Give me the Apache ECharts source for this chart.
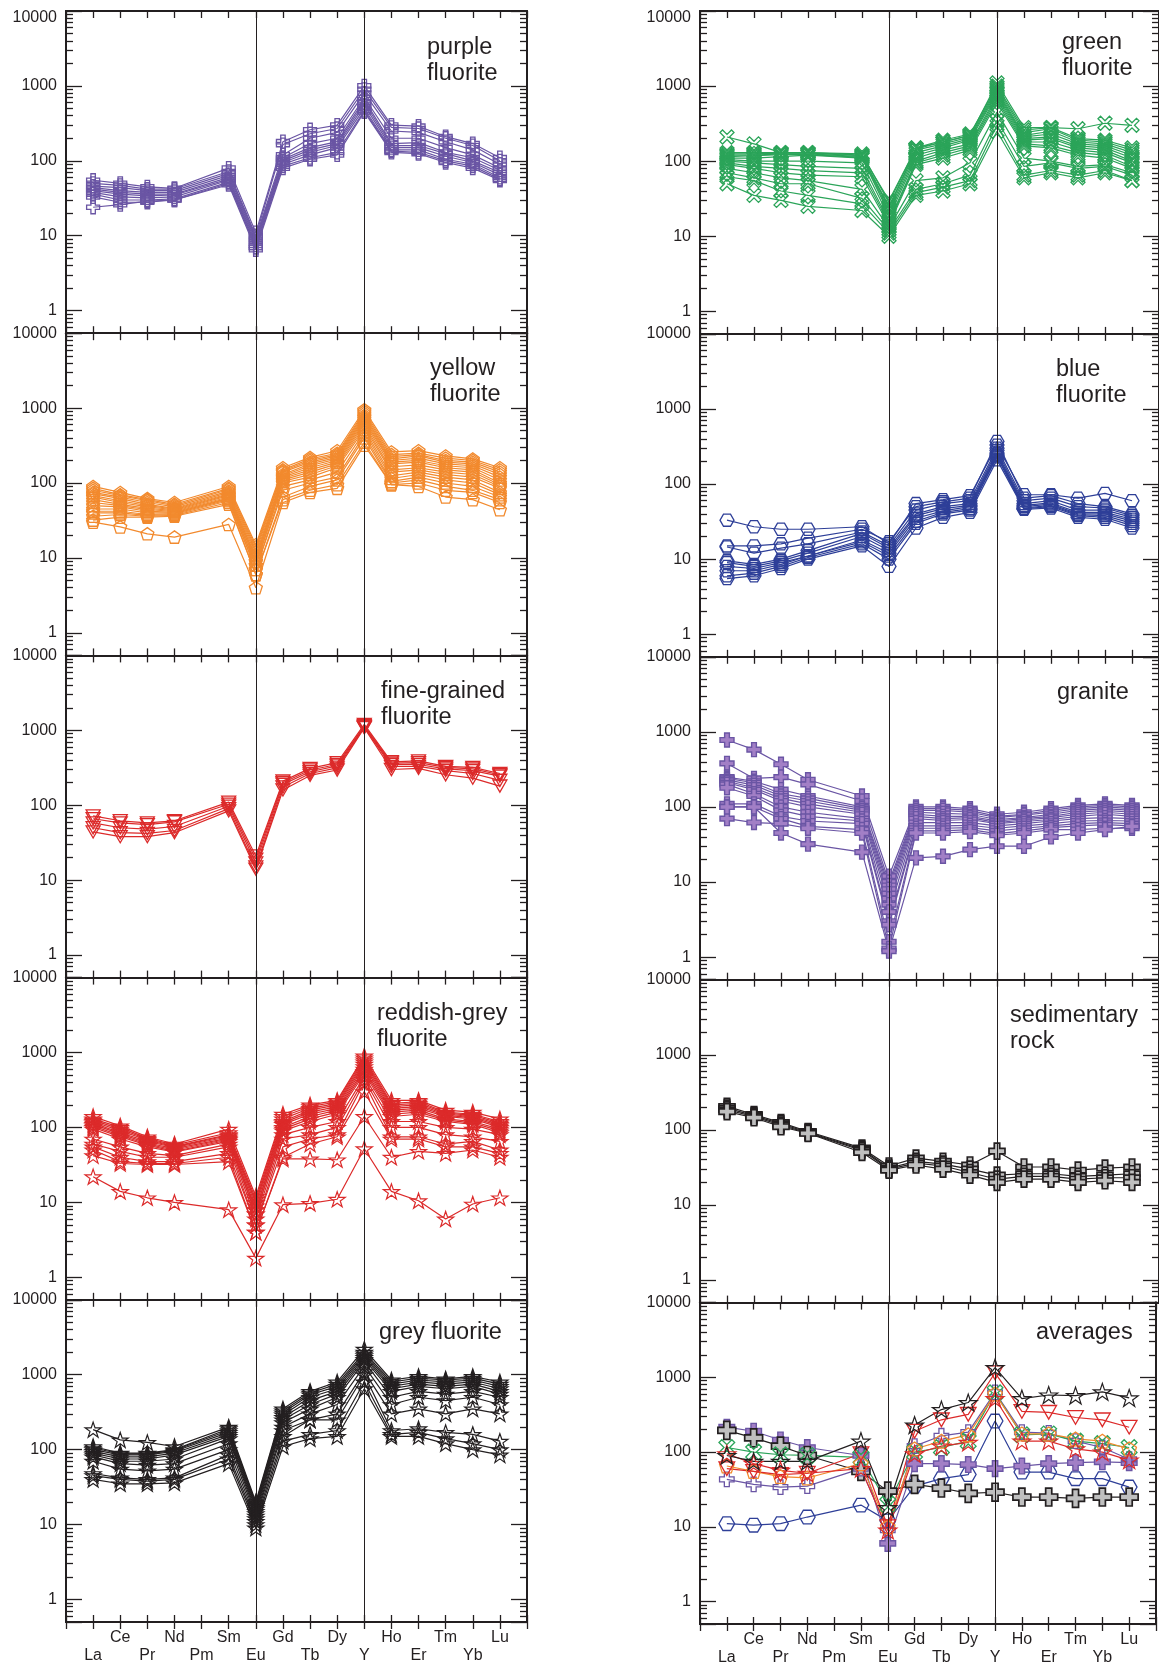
<!DOCTYPE html>
<html><head><meta charset="utf-8">
<script src="https://cdn.jsdelivr.net/npm/echarts@6.0.0/dist/echarts.min.js"></script>
<style>html,body{margin:0;padding:0;background:#fff}#c{width:1159px;height:1667px}</style>
</head><body><div id="c"></div>
<script>
// ---------------- DATA ----------------
const elements = ['La','Ce','Pr','Nd','Pm','Sm','Eu','Gd','Tb','Dy','Y','Ho','Er','Tm','Yb','Lu'];
const yMajorTicks = [1,10,100,1000,10000];
const minorTickValues = [0.6,0.7,0.8,0.9,2,3,4,5,6,7,8,9,20,30,40,50,60,70,80,90,200,300,400,500,600,700,800,900,2000,3000,4000,5000,6000,7000,8000,9000];

const purpleFluorite = [
  [55,50,45,43,null,80,11,180,260,300,1000,300,290,210,170,110],
  [50,47,42,42,null,72,10,165,230,270,900,280,270,200,160,100],
  [46,44,40,40,null,68,9.5,120,200,240,800,250,240,180,140,90],
  [44,40,38,38,null,64,9,110,170,200,700,200,200,150,120,80],
  [42,38,36,36,null,60,8.5,105,150,180,650,170,175,130,110,75],
  [40,36,34,35,null,57,8,100,140,170,600,160,160,125,100,70],
  [38,33,32,33,null,55,7.5,95,130,160,550,150,150,115,95,65],
  [36,30,30,31,null,52,7,90,120,150,500,140,140,105,90,60],
  [33,28,28,30,null,50,7,85,110,130,470,135,130,100,85,57],
  [24,26,29,30,null,48,6.5,80,105,120,450,130,125,95,80,55]
];
const greenFluorite = [
  [210,170,130,130,null,120,30,150,180,220,1100,280,280,270,320,300],
  [130,130,130,130,null,125,28,150,190,230,1000,260,280,200,190,150],
  [125,125,128,128,null,118,25,145,180,220,950,240,270,190,180,140],
  [120,120,125,125,null,115,24,140,170,210,900,220,250,180,170,130],
  [115,118,122,122,null,112,22,130,160,200,850,210,230,170,160,120],
  [110,110,115,120,null,110,20,120,150,190,800,200,210,160,150,110],
  [105,100,100,100,null,95,18,110,140,170,750,190,200,150,140,100],
  [100,95,90,85,null,80,16,100,130,160,700,180,180,140,130,95],
  [95,85,80,75,null,70,15,95,120,150,650,170,160,130,120,85],
  [90,80,70,65,null,62,14,90,110,140,600,160,150,120,110,80],
  [80,70,60,55,null,42,13,55,60,95,450,110,100,85,90,70],
  [70,60,50,50,null,32,12,42,50,65,350,85,95,80,85,65],
  [62,55,40,35,null,27,11,38,45,55,300,65,75,65,75,55],
  [50,35,30,25,null,22,10,35,40,50,250,60,70,60,70,55]
];
const yellowFluorite = [
  [90,75,62,55,null,90,15,160,220,270,950,260,270,230,210,160],
  [85,70,60,52,null,85,14,150,210,250,900,240,250,215,200,150],
  [80,68,58,50,null,82,13,145,200,240,850,225,240,200,190,140],
  [75,65,55,48,null,78,12,140,190,230,800,210,230,190,180,130],
  [72,62,52,46,null,75,11,130,180,220,760,200,215,180,170,120],
  [68,58,50,45,null,72,10,125,170,210,720,190,200,170,160,110],
  [65,55,48,44,null,70,10,120,160,200,680,180,190,160,150,100],
  [60,52,46,43,null,68,9,115,150,190,640,165,175,150,140,95],
  [55,50,44,42,null,65,9,110,140,180,600,150,160,140,130,90],
  [50,48,42,41,null,63,8,105,130,170,560,140,150,130,120,85],
  [45,45,40,40,null,62,8,100,120,160,520,125,140,120,110,75],
  [42,42,38,39,null,60,7,90,110,140,480,115,130,110,100,70],
  [40,40,37,38,null,58,7,80,100,120,440,105,120,100,90,65],
  [36,38,36,37,null,55,6,65,90,110,400,100,110,90,80,60],
  [32,35,35,36,null,52,6,60,80,95,350,95,100,80,75,55],
  [30,26,21,19,null,28,4,55,75,85,320,95,90,65,60,44]
];
const blueFluorite = [
  [33,27,25,25,null,27,16,55,62,70,330,72,72,65,75,60],
  [15,15,16,19,null,25,17,50,58,65,370,65,70,55,50,40],
  [14.5,12,14,16,null,23,15,45,55,60,300,60,65,50,48,38],
  [9.5,8.5,10,13,null,22,14,40,50,55,280,55,60,45,45,36],
  [9,8,9.5,12,null,20,13,38,47,52,260,52,56,42,42,34],
  [8,7.5,9,11,null,18,12,35,44,50,250,50,54,40,40,32],
  [7,7,8.5,11,null,17,11,32,42,47,240,48,52,39,38,30],
  [6,6.5,8,10.5,null,16,10,30,40,45,230,47,50,38,36,28],
  [5.5,6,7.5,10,null,15,8,26,36,42,210,46,48,36,34,26]
];
const fineGrainedFluorite = [
  [72,62,58,62,null,110,21,210,310,370,1200,380,390,330,320,265],
  [66,58,55,60,null,103,19,200,295,350,1150,365,370,320,305,255],
  [58,50,48,52,null,97,17,190,280,335,1120,350,350,305,290,245],
  [50,43,42,46,null,90,15,175,265,315,1100,330,330,290,265,215],
  [44,38,38,43,null,84,14,160,250,295,1080,300,310,255,230,180]
];
const granite = [
  [780,580,370,230,null,140,12,100,100,95,80,85,95,105,110,105],
  [380,240,250,200,null,120,10,95,95,90,75,80,90,100,105,100],
  [250,220,170,140,null,100,9,90,90,85,72,78,85,95,100,95],
  [240,210,150,130,null,95,8,85,82,80,68,72,80,90,95,90],
  [230,195,140,120,null,90,7,80,75,75,65,70,75,85,90,85],
  [220,180,130,110,null,85,6,75,70,72,62,67,72,80,85,80],
  [210,170,120,100,null,80,5,70,66,68,60,64,68,75,80,75],
  [200,150,100,85,null,70,4,62,62,62,56,60,65,70,72,70],
  [180,140,90,75,null,65,3,56,56,57,52,56,60,65,66,65],
  [110,110,75,65,null,60,2.7,52,52,53,48,52,56,60,62,60],
  [100,100,70,55,null,50,1.6,48,48,50,44,48,53,56,58,56],
  [70,62,60,52,null,45,1.3,45,45,47,42,45,50,50,52,52],
  [100,100,45,32,null,25,1.2,21,22,27,30,30,40,45,50,55]
];
const reddishGreyFluorite = [
  [140,105,75,60,null,95,12,150,200,230,900,230,230,170,160,130],
  [130,100,72,58,null,85,11,140,190,220,850,210,220,160,150,120],
  [125,95,70,56,null,80,10,130,180,210,800,200,210,155,145,115],
  [120,90,68,55,null,78,10,120,170,200,750,190,200,150,140,110],
  [115,85,65,54,null,75,9,115,160,190,700,180,190,145,135,105],
  [110,82,62,52,null,72,8,110,150,180,650,170,180,140,130,100],
  [105,78,60,50,null,70,8,100,140,170,600,160,170,130,120,95],
  [100,75,58,48,null,68,7,95,130,160,560,150,160,125,115,90],
  [95,70,55,47,null,65,7,90,120,150,520,140,150,120,110,85],
  [70,55,45,42,null,60,6,80,100,120,480,120,120,100,95,80],
  [60,48,40,40,null,55,5,70,80,100,440,100,100,80,75,65],
  [55,40,35,35,null,45,5,55,70,80,400,75,75,60,65,50],
  [50,35,33,33,null,40,4,40,60,75,300,70,70,55,55,45],
  [42,33,32,32,null,35,4,38,38,37,140,40,48,45,50,40],
  [22,14,11.5,10,null,8,1.8,9.3,9.7,11,52,14,10.5,6,9.5,11.5]
];
const sedimentaryRock = [
  [205,160,125,95,null,57,33,42,38,34,52,32,32,29,31,32],
  [195,155,120,93,null,55,31,38,35,30,25,26,26,24,25,26],
  [185,150,115,91,null,53,30,36,33,27,22,24,24,22,23,23],
  [175,145,110,90,null,50,29,34,30,25,20,22,22,20,21,20]
];
const greyFluorite = [
  [185,135,125,110,null,200,20,350,600,800,2200,850,950,880,950,800],
  [110,90,90,100,null,190,19,330,570,750,2000,800,900,850,900,750],
  [105,88,88,98,null,180,18,310,540,700,1900,750,850,800,850,700],
  [100,85,85,95,null,170,17,290,500,650,1800,700,800,750,800,650],
  [95,80,80,90,null,160,16,270,450,600,1700,650,750,700,750,600],
  [90,75,75,85,null,150,15,250,400,550,1600,600,700,650,700,550],
  [85,70,70,75,null,140,14,230,350,500,1500,500,600,550,600,500],
  [80,65,62,65,null,120,13,200,300,400,1300,400,500,450,500,400],
  [70,55,52,55,null,100,12,180,250,300,1100,300,350,300,350,300],
  [48,42,40,42,null,85,11,150,250,250,1000,180,190,170,160,130],
  [45,40,38,40,null,75,10,130,160,180,800,160,170,140,120,100],
  [40,35,35,36,null,65,9,110,140,150,650,150,150,120,100,85]
];
const avgBlue      = [11,10.5,11,13.5,null,19.5,12,35,44,50,260,54,54,44,44,34];
const avgGranite   = [215,190,145,115,null,90,6,70,70,68,60,65,70,72,74,72];
const avgSediment  = [195,155,120,90,null,55,30,37,33,28,29,25,25,24,25,25];
const avgPurple    = [43,37,34,35,null,60,9,120,165,185,630,185,180,140,115,80];
const avgGreen     = [115,100,92,90,null,85,20,100,115,140,620,170,175,140,130,115];
const avgYellow    = [65,55,47,45,null,70,10,110,140,170,600,175,175,150,140,110];
const avgReddish   = [95,70,57,52,null,60,9,95,120,135,520,140,140,110,100,78];
const avgFine      = [60,55,50,52,null,95,10,190,270,320,1150,350,340,290,270,215];
const avgGrey      = [90,75,75,75,null,140,18,230,370,460,1350,520,580,570,640,530];

// ---------------- STYLE ----------------
const INK = '#231F20';
const FONT = '"Liberation Sans", Arial, sans-serif';
const CLEAR = 'rgba(255,255,255,0)';
const SYM = {
  plus: 'path://M3.3,0H6.7V3.3H10V6.7H6.7V10H3.3V6.7H0V3.3H3.3Z',
  xmark: 'path://M0,1.8L1.8,0L5,3.2L8.2,0L10,1.8L6.8,5L10,8.2L8.2,10L5,6.8L1.8,10L0,8.2L3.2,5Z',
  pent: 'path://M5,0L10,3.6L8.1,9.5L1.9,9.5L0,3.6Z',
  hex: 'path://M2.5,0H7.5L10,4.33L7.5,8.66H2.5L0,4.33Z',
  tri: 'path://M0,0H10L5,8.7Z',
  star: 'path://M5,0L6.18,3.51L9.89,3.51L6.89,5.68L8.02,9.19L5,7.02L1.98,9.19L3.11,5.68L0.11,3.51L3.82,3.51Z'
};
const ST = {
  purple:  {sym:SYM.plus, size:13, line:'#6A55A4', fill:CLEAR, border:'#6A55A4', bw:1.3},
  green:   {sym:SYM.xmark,size:14, line:'#2BA459', fill:CLEAR, border:'#2BA459', bw:1.3},
  yellow:  {sym:SYM.pent, size:13, line:'#F28A2E', fill:CLEAR, border:'#F28A2E', bw:1.3},
  blue:    {sym:SYM.hex,  size:14, line:'#2E3F98', fill:CLEAR, border:'#2E3F98', bw:1.3},
  fine:    {sym:SYM.tri,  size:14, line:'#DC2A2A', fill:CLEAR, border:'#DC2A2A', bw:1.3},
  reddish: {sym:SYM.star, size:16, line:'#DC2A2A', fill:CLEAR, border:'#DC2A2A', bw:1.2},
  grey:    {sym:SYM.star, size:16, line:INK, fill:CLEAR, border:INK, bw:1.2},
  granite: {sym:SYM.plus, size:14, line:'#6A55A4', fill:'#A27FC6', border:'#6A55A4', bw:1.4},
  sed:     {sym:SYM.plus, size:16, line:INK, fill:'#BFBFBF', border:INK, bw:1.7}
};

const panels = [
  {col:0,row:0,rows:purpleFluorite, st:'purple', text:'purple\nfluorite', lx:427, ly:34},
  {col:0,row:1,rows:yellowFluorite, st:'yellow', text:'yellow\nfluorite', lx:430, ly:355},
  {col:0,row:2,rows:fineGrainedFluorite, st:'fine', text:'fine-grained\nfluorite', lx:381, ly:678},
  {col:0,row:3,rows:reddishGreyFluorite, st:'reddish', text:'reddish-grey\nfluorite', lx:377, ly:1000},
  {col:0,row:4,rows:greyFluorite, st:'grey', text:'grey fluorite', lx:379, ly:1319},
  {col:1,row:0,rows:greenFluorite, st:'green', text:'green\nfluorite', lx:1062, ly:29},
  {col:1,row:1,rows:blueFluorite, st:'blue', text:'blue\nfluorite', lx:1056, ly:356},
  {col:1,row:2,rows:granite, st:'granite', text:'granite', lx:1057, ly:679},
  {col:1,row:3,rows:sedimentaryRock, st:'sed', text:'sedimentary\nrock', lx:1010, ly:1002},
  {col:1,row:4,rows:null, st:null, text:'averages', lx:1036, ly:1319}
];
const averages = [
  [avgBlue,'blue'],[avgGranite,'granite'],[avgSediment,'sed'],[avgPurple,'purple'],
  [avgGreen,'green'],[avgYellow,'yellow'],[avgReddish,'reddish'],[avgFine,'fine'],[avgGrey,'grey']
];

function gridRect(col,row){
  if(col===0) return {left:66, width:461, top:11+row*322.2, height:322.2};
  return {left:700, width:459, top:11+row*322.9, height:322.9};
}
function xLabelFmt(v){
  if(v<1||v>16) return '';
  const n = elements[v-1];
  return (v%2===1) ? '\n'+n : n;
}
function xAxisCfg(g,pos,inside,labels){
  return {gridIndex:g,type:'value',position:pos,min:0,max:17,interval:1,
    axisLine:{show:true,onZero:false,lineStyle:{color:INK,width:2}},
    axisTick:{show:true,inside:inside,length:7,lineStyle:{color:INK,width:1.3}},
    axisLabel:{show:labels,margin:7,fontSize:16,lineHeight:18,color:INK,fontFamily:FONT,formatter:xLabelFmt},
    splitLine:{show:false}};
}
function yMain(g,pos,labels,isTop){
  return {gridIndex:g,type:'log',logBase:10,min:0.5,max:10000,position:pos,
    axisLine:{show:true,onZero:false,lineStyle:{color:INK,width:2}},
    axisTick:{show:true,inside:true,length:16,lineStyle:{color:INK,width:1.3}},
    axisLabel:{show:labels,margin:9,fontSize:16,color:INK,fontFamily:FONT,showMinLabel:true,showMaxLabel:true,
      rich:{t:{fontSize:16,fontFamily:FONT,color:INK,padding:[14,0,0,0]}},
      formatter:v=>{const r=Math.round(v);
        if(!(Math.abs(v-r)<1e-6 && yMajorTicks.indexOf(r)>=0)) return '';
        return (isTop && r===10000) ? '{t|'+r+'}' : String(r);}},
    splitLine:{show:false}};
}
function yMinor(g,pos){
  return {gridIndex:g,type:'log',logBase:10,min:0.5,max:10000,position:pos,
    axisLine:{show:true,onZero:false,lineStyle:{color:INK,width:2}},
    axisTick:{show:true,inside:true,length:7,customValues:minorTickValues,lineStyle:{color:INK,width:1.3}},
    axisLabel:{show:false},splitLine:{show:false}};
}
function mkSeries(g, vals, st, scale){
  const k = scale||1;
  return {type:'line', xAxisIndex:2*g, yAxisIndex:4*g,
    data: vals.map((v,i)=> v==null ? null : [i+1, v]).filter(d=>d),
    symbol: st.sym, symbolSize: st.size*k, symbolKeepAspect:true,
    lineStyle:{color:st.line, width:1.2},
    itemStyle:{color:st.fill, borderColor:st.border, borderWidth:st.bw},
    emphasis:{disabled:true}, animation:false, silent:true, z:3};
}

const grids=[], xAxes=[], yAxes=[], series=[], graphics=[];
panels.forEach((p,g)=>{
  grids.push(gridRect(p.col,p.row));
  xAxes.push(xAxisCfg(g,'bottom',true,false));
  xAxes.push(xAxisCfg(g,'top',true,false));
  yAxes.push(yMain(g,'left',true,p.row===0));
  yAxes.push(yMinor(g,'left'));
  yAxes.push(yMain(g,'right',false,false));
  yAxes.push(yMinor(g,'right'));
  series.push({type:'line', xAxisIndex:2*g, yAxisIndex:4*g, data:[], silent:true, z:1,
    markLine:{silent:true, symbol:['none','none'], label:{show:false}, animation:false,
      lineStyle:{color:INK,width:1,type:'solid'}, data:[{xAxis:7},{xAxis:11}]}});
  if(p.rows){
    p.rows.forEach(r=>series.push(mkSeries(g,r,ST[p.st])));
  } else {
    averages.forEach(a=>series.push(mkSeries(g,a[0],ST[a[1]],1.12)));
  }
  graphics.push({type:'text', left:p.lx, top:p.ly, silent:true,
    style:{text:p.text, font:'23.5px '+FONT, fill:INK, lineHeight:26.5}});
});
// outward ticks + element labels at the bottom of the last row
panels.forEach((p,g)=>{
  if(p.row===4) xAxes.push(xAxisCfg(g,'bottom',false,true));
});

const chart = echarts.init(document.getElementById('c'), null, {renderer:'canvas'});
chart.setOption({
  animation:false,
  backgroundColor:'#ffffff',
  textStyle:{fontFamily:FONT},
  grid:grids, xAxis:xAxes, yAxis:yAxes, series:series, graphic:graphics
});
</script>
</body></html>
